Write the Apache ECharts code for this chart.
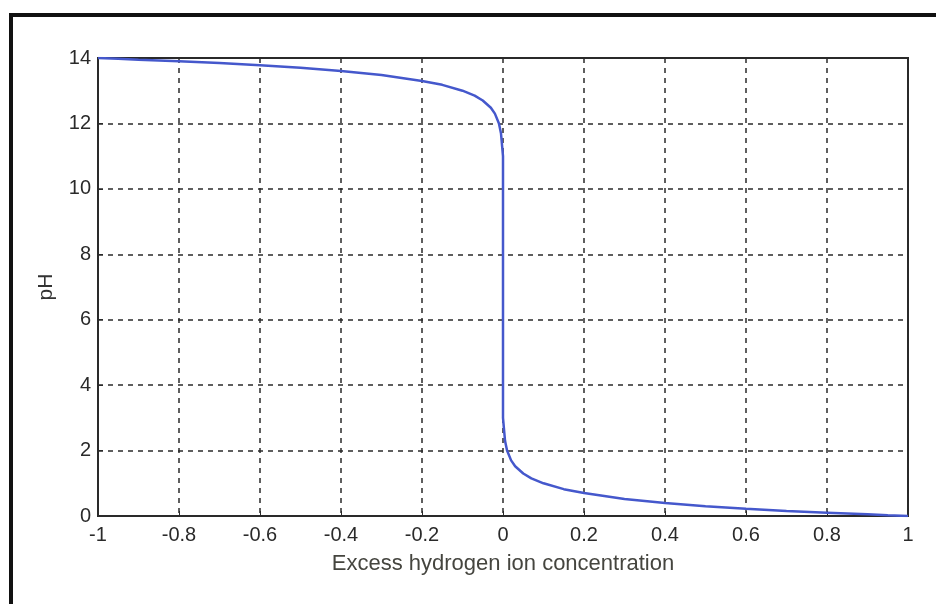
<!DOCTYPE html>
<html>
<head>
<meta charset="utf-8">
<script src="https://cdn.jsdelivr.net/npm/echarts@6/dist/echarts.min.js"></script>
<style>
    html, body {margin: 0; padding: 0; background: #fff;}
    #frame {
        position: absolute;
        left: 9px;
        top: 13px;
        width: 927px;
        height: 591px;
        border-top: 4px solid #111;
        border-left: 4px solid #111;
        box-sizing: border-box;
    }
    #chart {position: absolute; left: 0; top: 0; width: 936px; height: 604px;}
</style>
</head>
<body>
<div id="frame"></div>
<div id="chart"></div>
<script>
// excess H+ concentration vs pH
const concentration = [
    -1, -0.95, -0.9, -0.8, -0.7, -0.6, -0.5, -0.4, -0.3, -0.2, -0.15, -0.1,
    -0.07, -0.05, -0.03, -0.02, -0.01, -0.005, 0, 0,
    0.005, 0.01, 0.02, 0.03, 0.05, 0.07, 0.1, 0.15, 0.2, 0.3, 0.4, 0.5,
    0.6, 0.7, 0.8, 0.9, 0.95, 1,
];
const pH = [
    14, 13.98, 13.95, 13.9, 13.85, 13.78, 13.7, 13.6, 13.48, 13.3, 13.18, 13.0,
    12.85, 12.7, 12.48, 12.3, 12.0, 11.7, 11.0, 3.0,
    2.3, 2.0, 1.7, 1.52, 1.3, 1.15, 1.0, 0.82, 0.7, 0.52, 0.4, 0.3,
    0.22, 0.15, 0.1, 0.05, 0.02, 0,
];
const xLabel = 'Excess hydrogen ion concentration';
const yLabel = 'pH';

const chart = echarts.init(document.getElementById('chart'), null, {renderer: 'canvas'});

const gridLine = {
    show: true,
    lineStyle: {color: '#2a2a2a', type: [5, 5], width: 1.5},
};
const font = {
    fontFamily: 'Liberation Sans, Arial, sans-serif',
    fontSize: 20,
    color: '#2a2a2a',
};

chart.setOption({
    animation: false,
    grid: {
        left: 98,
        right: 28,
        top: 58,
        bottom: 88,
        show: true,
        borderColor: '#2a2a2a',
        borderWidth: 2,
    },
    xAxis: {
        type: 'value',
        min: -1,
        max: 1,
        interval: 0.2,
        name: xLabel,
        nameLocation: 'middle',
        nameGap: 37,
        nameTextStyle: {...font, fontSize: 22, color: '#45453f'},
        axisLine: {show: true, onZero: false, lineStyle: {color: '#2a2a2a', width: 2}},
        axisTick: {show: true, inside: true, length: 5, lineStyle: {color: '#2a2a2a'}},
        axisLabel: {...font, margin: 9},
        splitLine: gridLine,
    },
    yAxis: {
        type: 'value',
        min: 0,
        max: 14,
        interval: 2,
        name: yLabel,
        nameLocation: 'middle',
        nameGap: 41,
        nameTextStyle: {...font, fontSize: 21, color: '#333'},
        axisLine: {show: true, onZero: false, lineStyle: {color: '#2a2a2a', width: 2}},
        axisTick: {show: true, inside: true, length: 5, lineStyle: {color: '#2a2a2a'}},
        axisLabel: {...font, margin: 7},
        splitLine: gridLine,
    },
    series: [{
        type: 'line',
        data: concentration.map((x, i) => [x, pH[i]]),
        showSymbol: false,
        smooth: false,
        lineStyle: {color: '#4558cc', width: 2.5},
        z: 5,
    }],
});
</script>
</body>
</html>
